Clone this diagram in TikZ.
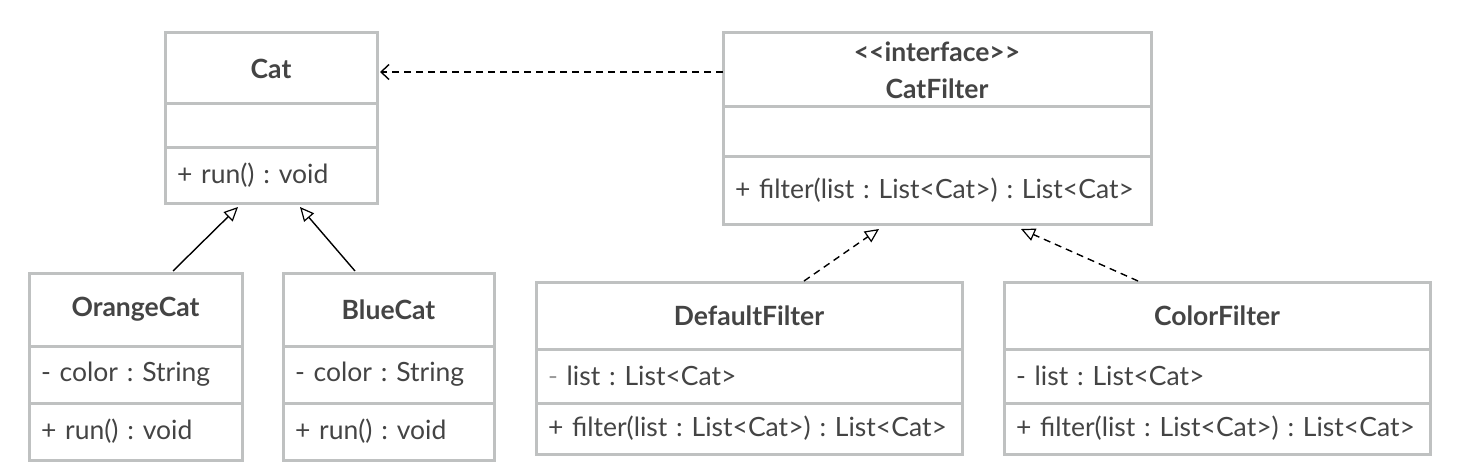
\documentclass[tikz,border=0pt]{standalone}
\usepackage{fontspec}
\setmainfont{Lato}[Ligatures=TeXOff]
\usetikzlibrary{arrows.meta,calc}
\definecolor{bordergray}{HTML}{BFC1C1}
\definecolor{txtgray}{HTML}{444444}
\definecolor{lightdash}{HTML}{9A9A9A}
\frenchspacing
\begin{document}
\begin{tikzpicture}[x=1pt,y=1pt,
  sec/.style={draw=bordergray, line width=3pt, rectangle, inner sep=0pt, outer sep=0pt, anchor=north west, text=txtgray},
  titlebox/.style={sec, font=\fontsize{26.5}{37}\selectfont\bfseries, align=center},
  membox/.style={sec, font=\fontsize{26.5}{28}\selectfont\frenchspacing, align=left, inner xsep=12pt},
  gen/.style={draw=black, line width=1.4pt, -{Triangle[open, length=14pt, width=13pt, line width=1.2pt]}},
  real/.style={gen, dash pattern=on 7pt off 5pt},
  dep/.style={draw=black, line width=1.4pt, dash pattern=on 7pt off 5pt, -{Straight Barb[length=8pt, width=15pt, line width=1.4pt]}}
]
\useasboundingbox[fill=white] (0,0) rectangle (1466,-476);

% Cat
\node[titlebox, minimum width=212pt, minimum height=71pt] (cat) at (165,-33) {Cat};
\node[membox, text width=188pt, minimum height=43pt] (cat-a) at (cat.south west) {};
\node[membox, text width=188pt, minimum height=56pt] (cat-m) at (cat-a.south west) {+ run() : void};

% CatFilter
\node[titlebox, minimum width=428pt, minimum height=74pt] (cf) at (723,-33) {<<interface>>\\CatFilter};
\node[membox, text width=404pt, minimum height=49pt] (cf-a) at (cf.south west) {};
\node[membox, text width=404pt, minimum height=68pt] (cf-m) at (cf-a.south west) {+ filter(list : List<Cat>) : List<Cat>};

% OrangeCat
\node[titlebox, minimum width=213pt, minimum height=73pt] (oc) at (29,-273) {OrangeCat};
\node[membox, text width=189pt, minimum height=57pt] (oc-a) at (oc.south west) {- color : String};
\node[membox, text width=189pt, minimum height=57pt] (oc-m) at (oc-a.south west) {+ run() : void};

% BlueCat
\node[titlebox, minimum width=211pt, minimum height=73pt] (bc) at (283,-273) {BlueCat};
\node[membox, text width=187pt, minimum height=57pt] (bc-a) at (bc.south west) {- color : String};
\node[membox, text width=187pt, minimum height=57pt] (bc-m) at (bc-a.south west) {+ run() : void};

% DefaultFilter
\node[titlebox, minimum width=426pt, minimum height=67pt] (df) at (536,-282) {DefaultFilter};
\node[membox, text width=402pt, minimum height=54pt] (df-a) at (df.south west) {\textcolor{lightdash}{-} list : List<Cat>};
\node[membox, text width=402pt, minimum height=51pt] (df-m) at (df-a.south west) {+ filter(list : List<Cat>) : List<Cat>};

% ColorFilter
\node[titlebox, minimum width=426pt, minimum height=67pt] (clf) at (1004,-282) {ColorFilter};
\node[membox, text width=402pt, minimum height=54pt] (clf-a) at (clf.south west) {- list : List<Cat>};
\node[membox, text width=402pt, minimum height=51pt] (clf-m) at (clf-a.south west) {+ filter(list : List<Cat>) : List<Cat>};

% connectors
\coordinate (oc-s) at ([xshift=144pt,yshift=2pt]oc.north west);
\coordinate (oc-t) at ([xshift=73pt,yshift=-4pt]cat-m.south west);
\coordinate (bc-s) at ([xshift=72pt,yshift=2pt]bc.north west);
\coordinate (bc-t) at ([xshift=135pt,yshift=-4pt]cat-m.south west);
\draw[gen] (oc-s) -- (oc-t);
\draw[gen] (bc-s) -- (bc-t);

\coordinate (df-s) at ([xshift=268pt,yshift=1pt]df.north west);
\coordinate (df-t) at ([xshift=156pt,yshift=-5pt]cf-m.south west);
\coordinate (clf-s) at ([xshift=134pt,yshift=1pt]clf.north west);
\coordinate (clf-t) at ([xshift=298pt,yshift=-5pt]cf-m.south west);
\draw[real] (df-s) -- (df-t);
\draw[real] (clf-s) -- (clf-t);

\coordinate (dep-s) at ([yshift=-2pt]cf.west);
\draw[dep] (dep-s) -- ([xshift=3pt]cat.east |- dep-s);
\end{tikzpicture}
\end{document}
